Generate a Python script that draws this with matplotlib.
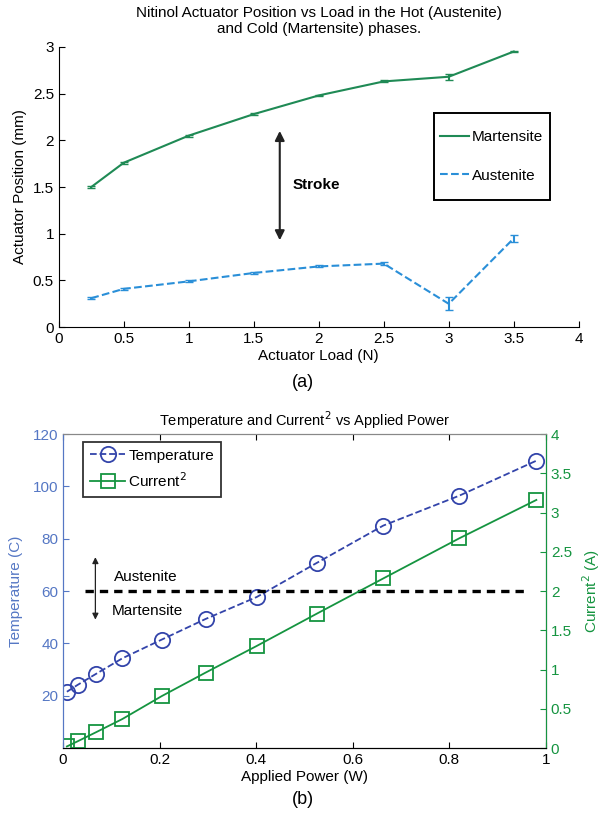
import matplotlib.pyplot as plt
from matplotlib.lines import Line2D
from matplotlib.patches import Rectangle

plt.rcParams['font.family'] = ['Liberation Sans', 'DejaVu Sans']
plt.rcParams['xtick.direction'] = 'in'
plt.rcParams['ytick.direction'] = 'in'

# (a) actuator position vs load
load = [0.25, 0.5, 1, 1.5, 2, 2.5, 3, 3.5]
mart = [1.50, 1.76, 2.05, 2.28, 2.48, 2.63, 2.68, 2.95]
mart_err = [0.01, 0.01, 0.01, 0.01, 0.01, 0.01, 0.03, 0.01]
aust = [0.31, 0.41, 0.49, 0.58, 0.65, 0.68, 0.25, 0.95]
aust_err = [0.01, 0.01, 0.01, 0.015, 0.01, 0.015, 0.07, 0.04]

# (b) temperature and current^2 vs applied power
power = [0.008, 0.03, 0.068, 0.123, 0.204, 0.295, 0.401, 0.525, 0.663, 0.82, 0.98]
temp = [21.5, 24.1, 28.3, 34.3, 41.4, 49.3, 57.7, 70.7, 85.0, 96.4, 109.8]
curr2 = [0.02, 0.085, 0.2, 0.37, 0.66, 0.96, 1.30, 1.71, 2.16, 2.67, 3.16]

c_mart = '#1f8a55'
c_aust = '#2a8fd8'
c_temp = '#3344aa'
c_left = '#5577c4'
c_curr = '#159440'
fs = 11

fig = plt.figure(figsize=(6.06, 8.22), dpi=100)

# ---- top plot
ax = fig.add_axes([0.097, 0.602, 0.858, 0.341])
ax.errorbar(load, mart, yerr=mart_err, color=c_mart, lw=1.5, capsize=3)
ax.errorbar(load, aust, yerr=aust_err, color=c_aust, lw=1.5, ls='--', capsize=3)
ax.set_xlim(0, 4)
ax.set_ylim(0, 3)
ax.set_xticks([0, 0.5, 1, 1.5, 2, 2.5, 3, 3.5, 4])
ax.set_xticklabels(['0', '0.5', '1', '1.5', '2', '2.5', '3', '3.5', '4'])
ax.set_yticks([0, 0.5, 1, 1.5, 2, 2.5, 3])
ax.set_yticklabels(['0', '0.5', '1', '1.5', '2', '2.5', '3'])
ax.spines['top'].set_visible(False)
ax.spines['right'].set_visible(False)
ax.tick_params(labelsize=fs, length=4)
ax.set_xlabel('Actuator Load (N)', fontsize=fs, labelpad=2)
ax.set_ylabel('Actuator Position (mm)', fontsize=fs, labelpad=4)
ax.set_title('Nitinol Actuator Position vs Load in the Hot (Austenite)\nand Cold (Martensite) phases.',
             fontsize=11, pad=10)
ax.annotate('', xy=(1.7, 0.9), xytext=(1.7, 2.13),
            arrowprops=dict(arrowstyle='<|-|>', color='#222222', lw=1.5, mutation_scale=14))
ax.text(1.8, 1.52, 'Stroke', fontsize=fs, fontweight='bold', va='center')

# legend box drawn as a plain rectangle, entries placed inside
box = (0.721, 0.454, 0.223, 0.311)
ax.add_patch(Rectangle(box[:2], box[2], box[3], transform=ax.transAxes, fill=False,
                       edgecolor='black', lw=1.4, zorder=5))
handles = [Line2D([], [], color=c_mart, lw=1.5), Line2D([], [], color=c_aust, lw=1.5, ls='--')]
ax.legend(handles, ['Martensite', 'Austenite'], loc='center', bbox_to_anchor=box,
          fontsize=fs, frameon=False, handlelength=1.9, labelspacing=1.6,
          borderpad=0, handletextpad=0.2, borderaxespad=0)
fig.text(0.5, 0.535, '(a)', ha='center', va='center', fontsize=13)

# ---- bottom plot
bx = fig.add_axes([0.104, 0.090, 0.797, 0.382])
bx.plot(power, temp, ls='--', marker='o', color=c_temp, ms=11, mfc='none', mew=1.3, lw=1.3,
        label='Temperature')
bx.set_xlim(0, 1)
bx.set_ylim(0, 120)
bx.set_yticks([20, 40, 60, 80, 100, 120])
bx.set_xticks([0, 0.2, 0.4, 0.6, 0.8, 1])
bx.set_xticklabels(['0', '0.2', '0.4', '0.6', '0.8', '1'])
bx.tick_params(axis='y', colors=c_left, labelsize=fs, length=4)
bx.tick_params(axis='x', labelsize=fs, length=4, top=True)
bx.spines['left'].set_color(c_left)
bx.spines['top'].set_color('#888888')
bx.set_xlabel('Applied Power (W)', fontsize=fs, labelpad=2)
bx.set_ylabel('Temperature (C)', fontsize=fs, color=c_left, labelpad=7)
bx.set_title('Temperature and Current$^2$ vs Applied Power', fontsize=10.5, pad=6)

bx.plot([0.045, 0.965], [60, 60], ls='--', color='black', lw=2.4, dashes=(2.5, 1.8))
bx.annotate('', xy=(0.067, 74), xytext=(0.067, 48),
            arrowprops=dict(arrowstyle='<|-|>', color='#222222', lw=0.9, mutation_scale=9))
bx.text(0.105, 65.5, 'Austenite', fontsize=fs, va='center')
bx.text(0.1, 52.5, 'Martensite', fontsize=fs, va='center')

bx2 = bx.twinx()
bx2.plot(power, curr2, ls='-', marker='s', color=c_curr, ms=10, mfc='none', mew=1.3, lw=1.3,
         label='Current$^2$')
bx2.set_ylim(0, 4)
bx2.set_yticks([0, 0.5, 1, 1.5, 2, 2.5, 3, 3.5, 4])
bx2.set_yticklabels(['0', '0.5', '1', '1.5', '2', '2.5', '3', '3.5', '4'])
bx2.tick_params(axis='y', colors=c_curr, labelsize=fs, length=4)
bx2.spines['right'].set_color(c_curr)
bx2.spines['left'].set_color(c_left)
bx2.spines['top'].set_color('#888888')
bx2.set_ylabel('Current$^2$ (A)', fontsize=fs, color=c_curr, labelpad=6)

h1, l1 = bx.get_legend_handles_labels()
h2, l2 = bx2.get_legend_handles_labels()
leg2 = bx2.legend([h1[0], h2[0]], [l1[0], l2[0]], loc='upper left', bbox_to_anchor=(0.042, 0.975),
                  fontsize=fs, frameon=True, fancybox=False, edgecolor='black', borderaxespad=0,
                  handlelength=2.3, handletextpad=0.2, borderpad=0.45, labelspacing=0.55)
leg2.get_frame().set_linewidth(1.3)
fig.text(0.5, 0.027, '(b)', ha='center', va='center', fontsize=13)

fig.savefig('out.png', dpi=100)
